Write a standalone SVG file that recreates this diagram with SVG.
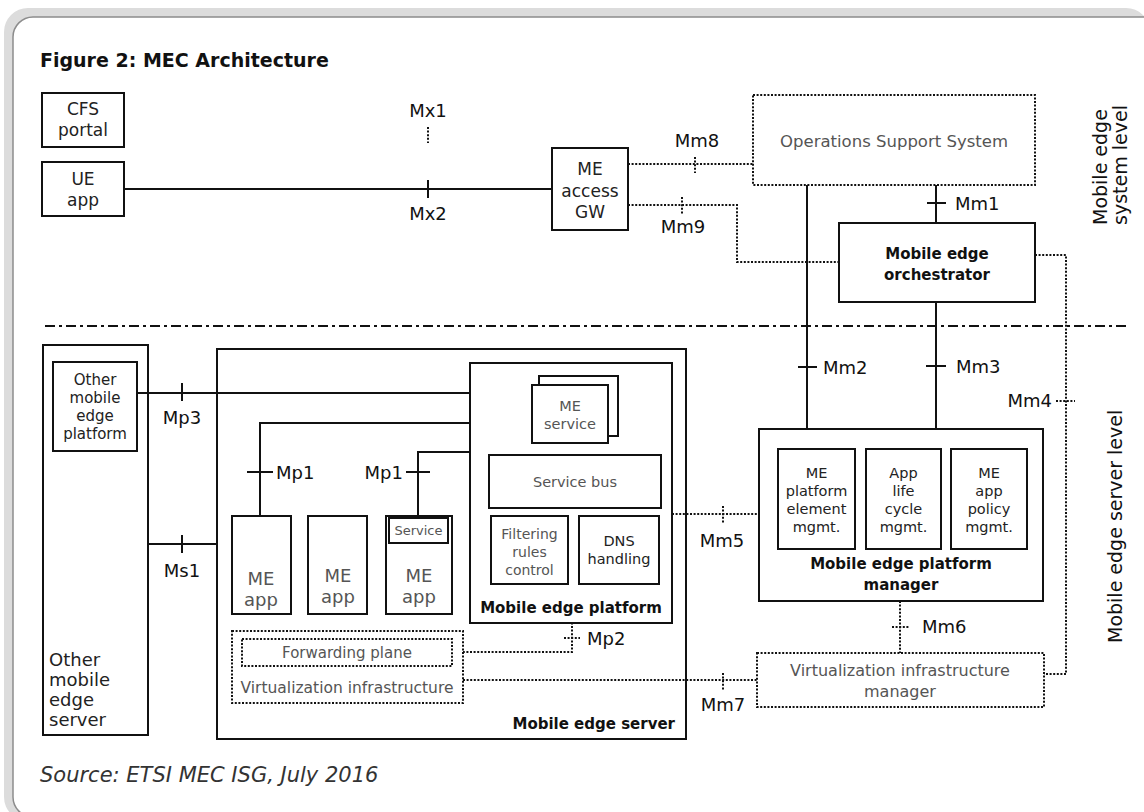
<svg xmlns="http://www.w3.org/2000/svg" width="1144" height="812" viewBox="0 0 1144 812">
<style>
text{font-family:"DejaVu Sans","Liberation Sans",sans-serif;fill:#222}
.box{fill:#fff;stroke:#111;stroke-width:2}
.dbox{fill:#fff;stroke:#111;stroke-width:2;stroke-dasharray:2 1.6}
.ln{fill:none;stroke:#111;stroke-width:2}
.dl{fill:none;stroke:#111;stroke-width:2;stroke-dasharray:2 1.6}
.dd{fill:none;stroke:#111;stroke-width:2;stroke-dasharray:10 4 3 4}
.c{text-anchor:middle}
.b{font-weight:bold;fill:#111}
.g{fill:#555}
.lbl{font-size:18px;fill:#111}
.t17{font-size:17px}
.t15{font-size:15px}
.t14{font-size:14.5px}
.bt{font-size:15px;font-weight:bold;fill:#111}
</style>
<g id="frame">
<rect x="4" y="8" width="1146" height="813" rx="24" fill="#dcdcdc"/>
<rect x="13" y="17" width="1160" height="800" rx="20" fill="#fff" stroke="#8c8c8c" stroke-width="1.5"/>
</g>
<text id="title" x="40" y="67" style="font-size:19px;font-weight:bold;fill:#111">Figure 2: MEC Architecture</text>

<g id="other-me-server">
<rect class="box" x="43" y="345" width="105" height="390"/>
<text style="font-size:18px" x="49" y="666">Other</text>
<text style="font-size:18px" x="49" y="686">mobile</text>
<text style="font-size:18px" x="49" y="706">edge</text>
<text style="font-size:18px" x="49" y="726">server</text>
</g>
<g id="me-server">
<rect class="box" x="217" y="349" width="469" height="390"/>
<text class="bt" x="675" y="729" text-anchor="end">Mobile edge server</text>
</g>

<g id="connectors">
<line class="ln" x1="124" y1="189" x2="552" y2="189"/>
<line class="ln" x1="428" y1="180" x2="428" y2="198"/>
<line class="dl" x1="428" y1="127" x2="428" y2="143"/>
<line class="dl" x1="628" y1="164" x2="753" y2="164"/>
<line class="dl" x1="695" y1="157" x2="695" y2="173"/>
<polyline class="dl" points="628,205 737,205 737,262 839,262"/>
<line class="dl" x1="682" y1="197" x2="682" y2="214"/>
<line class="ln" x1="936" y1="185" x2="936" y2="223"/>
<line class="ln" x1="927" y1="203" x2="946" y2="203"/>
<line class="ln" x1="807" y1="185" x2="807" y2="429"/>
<line class="ln" x1="798" y1="367" x2="817" y2="367"/>
<line class="ln" x1="936" y1="302" x2="936" y2="429"/>
<line class="ln" x1="926" y1="366" x2="946" y2="366"/>
<polyline class="dl" points="1035,255 1066,255 1066,674 1044,674"/>
<line class="dl" x1="1056" y1="401" x2="1075" y2="401"/>
<line class="dd" x1="45" y1="326" x2="1128" y2="326"/>
<line class="ln" x1="137" y1="393" x2="470" y2="393"/>
<line class="ln" x1="182" y1="383" x2="182" y2="401"/>
<line class="ln" x1="148" y1="544" x2="217" y2="544"/>
<line class="ln" x1="182" y1="535" x2="182" y2="553"/>
<polyline class="ln" points="470,423 260,423 260,516"/>
<line class="ln" x1="247" y1="472" x2="273" y2="472"/>
<polyline class="ln" points="470,452 418,452 418,516"/>
<line class="ln" x1="406" y1="472" x2="430" y2="472"/>
<polyline class="dl" points="452,652 572,652 572,623"/>
<line class="dl" x1="564" y1="638" x2="580" y2="638"/>
<line class="dl" x1="672" y1="514" x2="759" y2="514"/>
<line class="dl" x1="723" y1="506" x2="723" y2="523"/>
<line class="dl" x1="900" y1="601" x2="900" y2="653"/>
<line class="dl" x1="892" y1="627" x2="910" y2="627"/>
<line class="dl" x1="463" y1="680" x2="757" y2="680"/>
<line class="dl" x1="723" y1="673" x2="723" y2="690"/>
</g>

<g id="labels">
<text class="lbl c" x="428" y="117">Mx1</text>
<text class="lbl c" x="428" y="220">Mx2</text>
<text class="lbl c" x="697" y="147">Mm8</text>
<text class="lbl c" x="683" y="233">Mm9</text>
<text class="lbl" x="955" y="210">Mm1</text>
<text class="lbl" x="823" y="374">Mm2</text>
<text class="lbl" x="956" y="373">Mm3</text>
<text class="lbl" x="1052" y="407" text-anchor="end">Mm4</text>
<text class="lbl c" x="722" y="547">Mm5</text>
<text class="lbl" x="922" y="633">Mm6</text>
<text class="lbl c" x="723" y="711">Mm7</text>
<text class="lbl c" x="182" y="424">Mp3</text>
<text class="lbl c" x="182" y="577">Ms1</text>
<text class="lbl" x="276" y="479">Mp1</text>
<text class="lbl" x="403" y="479" text-anchor="end">Mp1</text>
<text class="lbl" x="587" y="645">Mp2</text>
<text style="font-size:19px;fill:#111" transform="translate(1107,225) rotate(-90)">Mobile edge</text>
<text style="font-size:19px;fill:#111" transform="translate(1127,225) rotate(-90)">system level</text>
<text style="font-size:19px;fill:#111" transform="translate(1122,643) rotate(-90)">Mobile edge server level</text>
</g>

<g id="cfs-portal">
<rect class="box" x="42" y="93" width="82" height="54"/>
<text class="t17 c" x="83" y="115">CFS</text>
<text class="t17 c" x="83" y="136">portal</text>
</g>
<g id="ue-app">
<rect class="box" x="42" y="162" width="82" height="54"/>
<text class="t17 c" x="83" y="185">UE</text>
<text class="t17 c" x="83" y="206">app</text>
</g>
<g id="me-access-gw">
<rect class="box" x="552" y="148" width="76" height="82"/>
<text class="t17 c" x="590" y="175">ME</text>
<text class="t17 c" x="590" y="197">access</text>
<text class="t17 c" x="590" y="218">GW</text>
</g>
<g id="oss">
<rect class="dbox" x="753" y="95" width="282" height="90"/>
<text class="c g" style="font-size:16.5px" x="894" y="147">Operations Support System</text>
</g>
<g id="meo">
<rect class="box" x="839" y="223" width="196" height="79"/>
<text class="bt c" x="937" y="259">Mobile edge</text>
<text class="bt c" x="937" y="280">orchestrator</text>
</g>

<g id="other-me-platform">
<rect class="box" x="53" y="362" width="84" height="89"/>
<text class="t15 c" x="95" y="385">Other</text>
<text class="t15 c" x="95" y="403">mobile</text>
<text class="t15 c" x="95" y="421">edge</text>
<text class="t15 c" x="95" y="439">platform</text>
</g>
<g id="me-platform">
<rect class="box" x="470" y="363" width="202" height="260"/>
<text class="bt c" x="571" y="613">Mobile edge platform</text>
</g>
<g id="me-service">
<rect class="box" x="539" y="376" width="79" height="60"/>
<rect class="box" x="532" y="385" width="76" height="58"/>
<text class="g c" style="font-size:14.5px" x="570" y="411">ME</text>
<text class="g c" style="font-size:14.5px" x="570" y="429">service</text>
</g>
<g id="service-bus">
<rect class="box" x="489" y="455" width="172" height="53"/>
<text class="g c" style="font-size:14.5px" x="575" y="487">Service bus</text>
</g>
<g id="filtering">
<rect class="box" x="491" y="516" width="77" height="68"/>
<text class="g c" style="font-size:14px" x="529.5" y="539">Filtering</text>
<text class="g c" style="font-size:14px" x="529.5" y="557">rules</text>
<text class="g c" style="font-size:14px" x="529.5" y="575">control</text>
</g>
<g id="dns">
<rect class="box" x="579" y="516" width="80" height="68"/>
<text class="c" style="font-size:14.5px" x="619" y="546">DNS</text>
<text class="c" style="font-size:14.5px" x="619" y="564">handling</text>
</g>
<g id="me-app-1">
<rect class="box" x="232" y="516" width="59" height="98"/>
<text class="g c" style="font-size:18px" x="261" y="585">ME</text>
<text class="g c" style="font-size:18px" x="261" y="606">app</text>
</g>
<g id="me-app-2">
<rect class="box" x="308" y="516" width="59" height="98"/>
<text class="g c" style="font-size:18px" x="338" y="582">ME</text>
<text class="g c" style="font-size:18px" x="338" y="603">app</text>
</g>
<g id="me-app-3">
<rect class="box" x="386" y="516" width="66" height="98"/>
<rect class="box" x="389" y="518" width="59" height="25"/>
<text class="g c" style="font-size:13px" x="418.5" y="535">Service</text>
<text class="g c" style="font-size:18px" x="419" y="582">ME</text>
<text class="g c" style="font-size:18px" x="419" y="603">app</text>
</g>
<g id="virt-infra">
<rect class="dbox" x="232" y="631" width="231" height="72"/>
<text class="g c" style="font-size:15.5px" x="347" y="693">Virtualization infrastructure</text>
</g>
<g id="forwarding-plane">
<rect class="dbox" x="242" y="639" width="210" height="27"/>
<text class="g c" style="font-size:15px" x="347" y="658">Forwarding plane</text>
</g>
<g id="mepm">
<rect class="box" x="759" y="429" width="284" height="172"/>
<text class="bt c" x="901" y="569">Mobile edge platform</text>
<text class="bt c" x="901" y="590">manager</text>
</g>
<g id="me-platform-element-mgmt">
<rect class="box" x="778" y="449" width="77" height="100"/>
<text class="t14 c" x="816.5" y="478">ME</text>
<text class="t14 c" x="816.5" y="496">platform</text>
<text class="t14 c" x="816.5" y="514">element</text>
<text class="t14 c" x="816.5" y="532">mgmt.</text>
</g>
<g id="app-lifecycle-mgmt">
<rect class="box" x="866" y="449" width="75" height="100"/>
<text class="t14 c" x="903.5" y="478">App</text>
<text class="t14 c" x="903.5" y="496">life</text>
<text class="t14 c" x="903.5" y="514">cycle</text>
<text class="t14 c" x="903.5" y="532">mgmt.</text>
</g>
<g id="me-app-policy-mgmt">
<rect class="box" x="951" y="449" width="76" height="100"/>
<text class="t14 c" x="989" y="478">ME</text>
<text class="t14 c" x="989" y="496">app</text>
<text class="t14 c" x="989" y="514">policy</text>
<text class="t14 c" x="989" y="532">mgmt.</text>
</g>
<g id="vim">
<rect class="dbox" x="757" y="653" width="287" height="54"/>
<text class="g c" style="font-size:16px" x="900" y="676">Virtualization infrastructure</text>
<text class="g c" style="font-size:16px" x="900" y="697">manager</text>
</g>
<text id="source" x="40" y="782" style="font-size:21px;font-style:italic;fill:#333">Source: ETSI MEC ISG, July 2016</text>
</svg>
